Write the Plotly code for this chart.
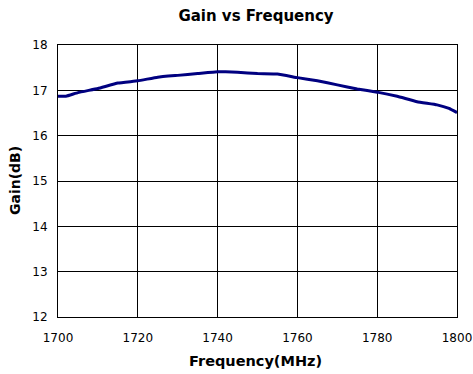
import plotly.graph_objects as go

freq = [1700, 1702, 1705, 1710, 1715, 1720, 1725, 1730, 1735, 1740, 1742, 1745, 1750, 1755,
        1760, 1765, 1770, 1775, 1780, 1785, 1790, 1795, 1798, 1800]
gain = [16.87, 16.87, 16.95, 17.04, 17.16, 17.21, 17.29, 17.33, 17.37, 17.41, 17.41, 17.40,
        17.37, 17.36, 17.28, 17.21, 17.12, 17.03, 16.96, 16.87, 16.75, 16.68, 16.60, 16.51]

x_ticks = [1700, 1720, 1740, 1760, 1780, 1800]
y_ticks = [12, 13, 14, 15, 16, 17, 18]

W, H = 473, 374
L, T = 58, 45
PR, PB = 457, 317
R, B = W - PR, H - PB
pw, ph = PR - L, PB - T

fig = go.Figure()
fig.add_trace(go.Scatter(x=freq, y=gain, mode="lines",
                         line=dict(color="#000080", width=3, shape="spline", smoothing=0.3),
                         showlegend=False, hoverinfo="skip"))

font_fam = "DejaVu Sans, Verdana, sans-serif"
fig.update_layout(
    width=W, height=H,
    margin=dict(l=L, r=R, t=T, b=B, autoexpand=False),
    paper_bgcolor="white", plot_bgcolor="white",
    title=dict(text="<b>Gain vs Frequency</b>", x=256 / W, xanchor="center",
               y=1 - 16 / H, yanchor="middle",
               font=dict(family=font_fam, size=15, color="black")),
    font=dict(family=font_fam, size=12, color="black"),
    annotations=[
        dict(text="<b>Frequency(MHz)</b>", xref="paper", yref="paper",
             x=(255 - L) / pw, y=-(361 - PB) / ph, xanchor="center", yanchor="middle",
             showarrow=False, font=dict(family=font_fam, size=14.5, color="black")),
        dict(text="<b>Gain(dB)</b>", xref="paper", yref="paper", textangle=-90,
             x=(15 - L) / pw, y=0.5, xanchor="center", yanchor="middle",
             showarrow=False, font=dict(family=font_fam, size=14, color="black")),
    ],
)
fig.update_xaxes(range=[1700, 1800], tickvals=x_ticks, ticktext=[str(t) for t in x_ticks],
                 showgrid=True, gridcolor="black", gridwidth=1,
                 showline=True, linecolor="black", linewidth=1, mirror=True,
                 ticks="outside", ticklen=10, tickcolor="rgba(0,0,0,0)", zeroline=False,
                 automargin=False, ticklabeloverflow="allow", tickfont=dict(size=12))
fig.update_yaxes(range=[12, 18], tickvals=y_ticks, ticktext=[str(t) for t in y_ticks],
                 showgrid=True, gridcolor="black", gridwidth=1,
                 showline=True, linecolor="black", linewidth=1, mirror=True,
                 ticks="outside", ticklen=7, tickcolor="rgba(0,0,0,0)", zeroline=False,
                 automargin=False, tickfont=dict(size=12))

fig.write_html("out.html", config={"displayModeBar": False, "staticPlot": True},
               post_script="document.body.style.margin='0';document.body.style.overflow='hidden';")
